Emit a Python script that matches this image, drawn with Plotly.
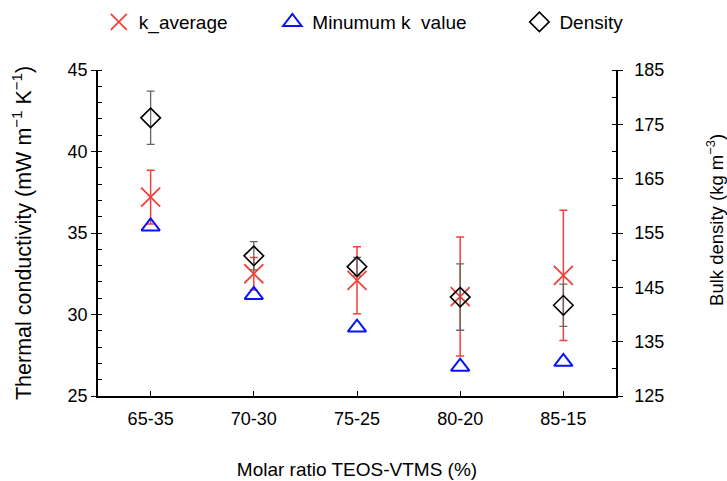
import plotly.graph_objects as go

categories = ["65-35", "70-30", "75-25", "80-20", "85-15"]
k_average = [37.2, 32.5, 32.1, 31.1, 32.4]
k_average_err = [1.65, 1.0, 2.05, 3.65, 4.0]
k_min = [35.4, 31.2, 29.2, 26.8, 27.1]
density = [176.2, 150.8, 148.8, 143.2, 141.7]
density_err = [4.9, 2.6, 1.7, 6.1, 3.9]

FONT = "Liberation Sans, Arial, sans-serif"
RED = "#f0413a"
BLUE = "#0a14f0"

fig = go.Figure()
fig.add_trace(go.Scatter(
    x=categories, y=k_average, mode="markers", name="k_average",
    marker=dict(symbol="x-thin-open", size=19, line=dict(color=RED, width=1.8), color=RED),
    error_y=dict(type="data", array=k_average_err, visible=True, color=RED, thickness=1.5, width=4),
    legend="legend",
))
fig.add_trace(go.Scatter(
    x=categories, y=k_min, mode="markers", name="Minumum k  value",
    marker=dict(symbol="triangle-up-open", size=16, line=dict(color=BLUE, width=2), color=BLUE),
    legend="legend2",
))
fig.add_trace(go.Scatter(
    x=categories, y=density, mode="markers", name="Density", yaxis="y2",
    marker=dict(symbol="diamond-open", size=15, line=dict(color="black", width=1.6), color="black"),
    error_y=dict(type="data", array=density_err, visible=True, color="#666666", thickness=1.3, width=4),
    legend="legend3",
))

legend_common = dict(orientation="h", yanchor="middle", y=1.147, xanchor="left",
                     font=dict(family=FONT, size=19, color="black"),
                     bgcolor="rgba(0,0,0,0)", borderwidth=0)
tick_common = dict(tickcolor="black", tickwidth=1.2)
fig.update_layout(
    width=727, height=481,
    margin=dict(l=98, r=111, t=70, b=85, autoexpand=False),
    paper_bgcolor="white", plot_bgcolor="white",
    font=dict(family=FONT, size=18, color="black"),
    showlegend=True,
    legend=dict(x=0.0016, **legend_common),
    legend2=dict(x=0.3366, **legend_common),
    legend3=dict(x=0.8135, **legend_common),
    xaxis=dict(
        type="category", range=[-0.51, 4.51],
        showline=True, linecolor="black", linewidth=1.5, mirror=False,
        ticks="inside", ticklen=5, **tick_common,
        showgrid=False, zeroline=False, ticklabelstandoff=6,
        tickfont=dict(family=FONT, size=18),
        title=dict(text="Molar ratio TEOS-VTMS (%)", font=dict(family=FONT, size=19), standoff=34),
    ),
    yaxis=dict(
        range=[25, 45], tick0=25, dtick=5,
        showline=True, linecolor="black", linewidth=1.5,
        ticks="outside", ticklen=5, **tick_common,
        minor=dict(dtick=1, ticks="inside", ticklen=4, tickcolor="black", tickwidth=1.2, showgrid=False),
        showgrid=False, zeroline=False,
        tickfont=dict(family=FONT, size=18),
        title=dict(text="Thermal conductivity (mW m<sup>−1</sup> K<sup>−1</sup>)", font=dict(family=FONT, size=21.5), standoff=30),
    ),
    yaxis2=dict(
        range=[125, 185], tick0=125, dtick=10, overlaying="y", side="right",
        showline=True, linecolor="black", linewidth=1.5,
        ticks="outside", ticklen=5, **tick_common,
        minor=dict(dtick=5, ticks="inside", ticklen=4, tickcolor="black", tickwidth=1.2, showgrid=False),
        showgrid=False, zeroline=False, ticklabelstandoff=8,
        tickfont=dict(family=FONT, size=18),
    ),
    yaxis3=dict(
        range=[25, 45], tick0=25, dtick=5, overlaying="y", side="left",
        showline=False, ticks="inside", ticklen=5, **tick_common,
        showticklabels=False, showgrid=False, zeroline=False,
    ),
    yaxis4=dict(
        range=[125, 185], tick0=125, dtick=10, overlaying="y", side="right",
        showline=False, ticks="inside", ticklen=5, **tick_common,
        showticklabels=False, showgrid=False, zeroline=False,
    ),
    annotations=[dict(
        text="Bulk density (kg m<sup>−3</sup>)", textangle=-90,
        xref="paper", yref="paper", x=1.191, y=0.54, xanchor="center", yanchor="middle",
        showarrow=False, font=dict(family=FONT, size=18.5, color="black"),
    )],
)

fig.write_html("out.html")
